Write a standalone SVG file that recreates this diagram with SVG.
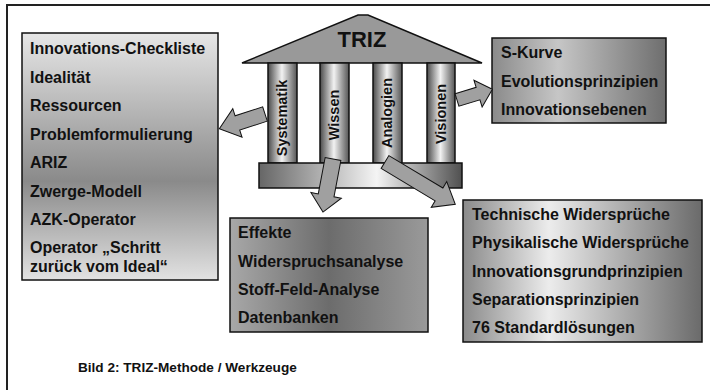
<svg xmlns="http://www.w3.org/2000/svg" width="710" height="390" viewBox="0 0 710 390">
<style>
.t{font-family:"Liberation Sans",Arial,sans-serif;font-weight:bold;font-size:16px;fill:#111}
.ct{font-family:"Liberation Sans",Arial,sans-serif;font-weight:bold;font-size:14.5px;fill:#111;text-anchor:middle}
.box{stroke:#111;stroke-width:1.5}
.col{fill:url(#gCol);stroke:#111;stroke-width:1.5}
.arr{fill:#a0a0a0;stroke:#111;stroke-width:1;stroke-linejoin:miter}
</style>
<defs>
<linearGradient id="gLeft" x1="0" y1="0" x2="0" y2="1">
<stop offset="0" stop-color="#e6e6e6"/><stop offset="0.6" stop-color="#8a8a8a"/><stop offset="1" stop-color="#e2e2e2"/>
</linearGradient>
<linearGradient id="gTopR" x1="0" y1="0" x2="1" y2="0">
<stop offset="0" stop-color="#8a8a8a"/><stop offset="0.38" stop-color="#c6c6c6"/><stop offset="1" stop-color="#6e6e6e"/>
</linearGradient>
<linearGradient id="gMid" x1="0" y1="0" x2="1" y2="0">
<stop offset="0" stop-color="#a8a8a8"/><stop offset="0.5" stop-color="#6c6c6c"/><stop offset="1" stop-color="#9a9a9a"/>
</linearGradient>
<linearGradient id="gBotR" x1="0" y1="0" x2="1" y2="0">
<stop offset="0" stop-color="#8a8a8a"/><stop offset="0.36" stop-color="#ececec"/><stop offset="1" stop-color="#6a6a6a"/>
</linearGradient>
<linearGradient id="gCol" x1="0" y1="0" x2="1" y2="0">
<stop offset="0" stop-color="#4a4a4a"/><stop offset="0.48" stop-color="#f2f2f2"/><stop offset="1" stop-color="#555"/>
</linearGradient>
<linearGradient id="gBase" x1="0" y1="0" x2="1" y2="0">
<stop offset="0" stop-color="#666"/><stop offset="0.58" stop-color="#f4f4f4"/><stop offset="1" stop-color="#505050"/>
</linearGradient>
</defs>
<rect x="0" y="0" width="710" height="390" fill="#fff"/>
<rect x="7" y="5" width="730" height="420" fill="none" stroke="#222" stroke-width="2"/>

<g id="temple">
<polygon points="242,63 358,15 368,15 482,63" fill="#999" stroke="#111" stroke-width="1.5"/>
<text x="362" y="47" font-family="Liberation Sans,Arial,sans-serif" font-weight="bold" font-size="22" text-anchor="middle" fill="#111">TRIZ</text>
<g id="col-systematik"><rect class="col" x="268" y="63" width="29" height="100"/><text class="ct" transform="translate(287,118) rotate(-90)">Systematik</text></g>
<g id="col-wissen"><rect class="col" x="320" y="63" width="29" height="100"/><text class="ct" transform="translate(339,115) rotate(-90)">Wissen</text></g>
<g id="col-analogien"><rect class="col" x="373" y="63" width="29" height="100"/><text class="ct" transform="translate(392,113) rotate(-90)">Analogien</text></g>
<g id="col-visionen"><rect class="col" x="427" y="63" width="28" height="100"/><text class="ct" transform="translate(446,114) rotate(-90)">Visionen</text></g>
<rect x="259" y="163" width="203" height="25" fill="url(#gBase)" stroke="#111" stroke-width="1.5"/>
</g>

<g id="box-left">
<rect class="box" x="22" y="33" width="196" height="247" fill="url(#gLeft)"/>
<text class="t" x="30" y="54">Innovations-Checkliste</text>
<text class="t" x="30" y="83">Idealität</text>
<text class="t" x="30" y="111">Ressourcen</text>
<text class="t" x="30" y="140">Problemformulierung</text>
<text class="t" x="30" y="168">ARIZ</text>
<text class="t" x="30" y="197">Zwerge-Modell</text>
<text class="t" x="30" y="225">AZK-Operator</text>
<text class="t" x="30" y="253">Operator „Schritt</text>
<text class="t" x="30" y="272">zurück vom Ideal“</text>
</g>

<g id="box-topright">
<rect class="box" x="492" y="38" width="174" height="85" fill="url(#gTopR)"/>
<text class="t" x="501" y="58">S-Kurve</text>
<text class="t" x="501" y="87">Evolutionsprinzipien</text>
<text class="t" x="501" y="115">Innovationsebenen</text>
</g>

<g id="box-mid">
<rect class="box" x="230" y="218" width="198" height="114" fill="url(#gMid)"/>
<text class="t" x="238" y="238">Effekte</text>
<text class="t" x="238" y="267">Widerspruchsanalyse</text>
<text class="t" x="238" y="295">Stoff-Feld-Analyse</text>
<text class="t" x="238" y="323">Datenbanken</text>
</g>

<g id="box-botright">
<rect class="box" x="463" y="200" width="239" height="142" fill="url(#gBotR)"/>
<text class="t" x="472" y="220">Technische Widersprüche</text>
<text class="t" x="472" y="248">Physikalische Widersprüche</text>
<text class="t" x="472" y="277">Innovationsgrundprinzipien</text>
<text class="t" x="472" y="305">Separationsprinzipien</text>
<text class="t" x="472" y="333">76 Standardlösungen</text>
</g>

<g id="connectors">
<path class="arr" transform="translate(265,114) rotate(162)" d="M0,-7.5 L29,-7.5 L29,-15 L48,0 L29,15 L29,7.5 L0,7.5 Z"/>
<path class="arr" transform="translate(457,100) rotate(-17)" d="M0,-6.5 L22,-6.5 L22,-14 L37,0 L22,14 L22,6.5 L0,6.5 Z"/>
<path class="arr" transform="translate(333,159) rotate(100.7)" d="M0,-8 L37,-8 L37,-15.5 L54,0 L37,15.5 L37,8 L0,8 Z"/>
<path class="arr" transform="translate(385,162) rotate(31)" d="M0,-7.5 L63,-7.5 L63,-15 L82,0 L63,15 L63,7.5 L0,7.5 Z"/>
</g>

<text x="78" y="372" font-family="Liberation Sans,Arial,sans-serif" font-weight="bold" font-size="13.6" fill="#111">Bild 2: TRIZ-Methode / Werkzeuge</text>
</svg>
